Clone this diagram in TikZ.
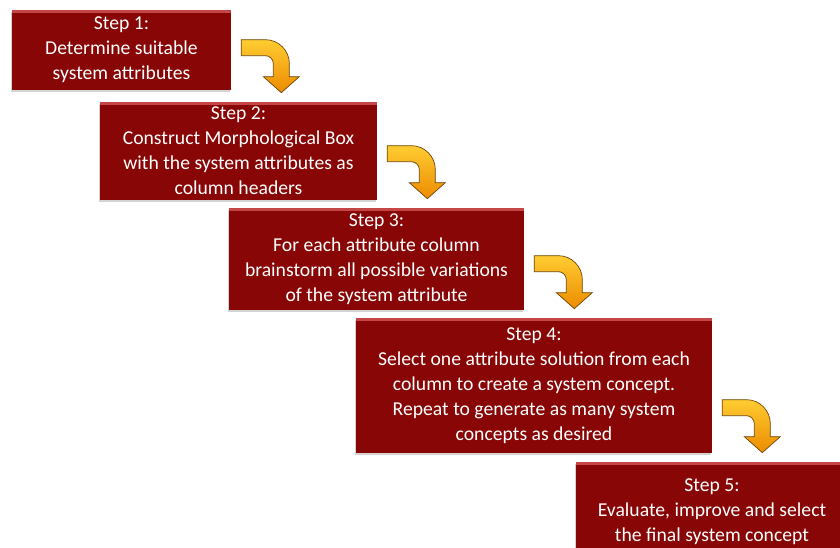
\documentclass[tikz,border=0pt]{standalone}
\usepackage{fontspec}
\setmainfont{Carlito}
\usetikzlibrary{shapes,arrows}
\usetikzlibrary{positioning,calc,shadows}

\definecolor{boxred}{RGB}{136,6,6}
\definecolor{boxedge}{RGB}{196,70,70}
\definecolor{arrowtop}{RGB}{255,204,50}
\definecolor{arrowbot}{RGB}{236,140,0}
\definecolor{arrowline}{RGB}{110,70,10}

\tikzset{
  stepbox/.style={fill=boxred, text=white, align=center, inner sep=0pt,
    font=\fontsize{11.2}{14.2}\selectfont,
    drop shadow={shadow xshift=-0.6pt, shadow yshift=-1.2pt, opacity=0.35},
    path picture={\fill[boxedge] (path picture bounding box.north west)
      rectangle ([yshift=-1.6pt]path picture bounding box.north east);}},
  pics/bendarrow/.style={code={
    \draw[arrowline, line width=0.4pt, top color=arrowtop, bottom color=arrowbot]
      (0,0) -- (24,0) .. controls (37.25,0) and (48,10.75) .. (48,24)
      -- (48,37) -- (58,37) -- (40,53) -- (22,37) -- (32,37) -- (32,24)
      .. controls (32,19.58) and (28.42,16) .. (24,16) -- (0,16) -- cycle;
  }}
}

\begin{document}
\begin{tikzpicture}[x=0.02cm,y=-0.02cm]
\clip (0,0) rectangle (840,548);

\node[stepbox,minimum width=4.38cm,minimum height=1.6cm] (b1) at (121.5,50)
  {Step 1:\\Determine suitable\\system attributes};
\node[stepbox,minimum width=5.54cm,minimum height=1.96cm] (b2) at (238.5,151)
  {Step 2:\\Construct Morphological Box\\with the system attributes as\\column headers};
\node[stepbox,minimum width=5.9cm,minimum height=2.04cm] (b3) at (376.5,259)
  {Step 3:\\For each attribute column\\brainstorm all possible variations\\of the system attribute};
\node[stepbox,minimum width=7.12cm,minimum height=2.7cm] (b4) at (534,385.5)
  {Step 4:\\Select one attribute solution from each\\column to create a system concept.\\Repeat to generate as many system\\concepts as desired};
\node[stepbox,minimum width=5.44cm,minimum height=2.0cm] (b5) at (712,512)
  {Step 5:\\Evaluate, improve and select\\the final system concept};

\foreach \a/\b in {b1/b2,b2/b3,b3/b4,b4/b5}
  \pic at ($(\a.east |- \b.north)+(10,-62)$) {bendarrow};

\end{tikzpicture}
\end{document}
